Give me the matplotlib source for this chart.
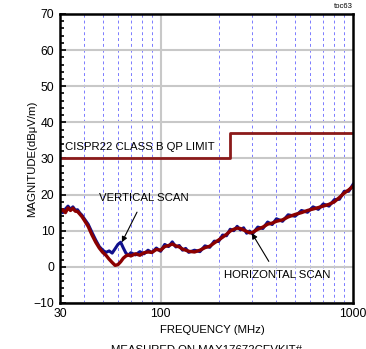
import matplotlib
matplotlib.use("Agg")
import matplotlib.pyplot as plt
from matplotlib.ticker import FixedLocator, MultipleLocator, NullFormatter

plt.rcParams["font.family"] = ["Liberation Sans", "DejaVu Sans"]

# CISPR22 class B QP limit
limit_freq = [30, 230, 230, 1000]
limit_level = [30, 30, 37, 37]

# scans (MHz, dBuV/m)
freq = [30, 31, 32, 33, 34, 35, 36, 37, 38, 39, 40, 42, 44, 46, 48, 50, 52, 54, 56,
        58, 60, 62, 64, 66, 68, 70, 74, 78, 82, 86, 90, 95, 100, 105, 110, 115, 120,
        125, 130, 135, 140, 150, 160, 170, 180, 190, 200, 210, 220, 230, 240, 250,
        260, 270, 280, 290, 300, 320, 340, 360, 380, 400, 430, 460, 500, 540, 580,
        620, 660, 700, 750, 800, 850, 900, 950, 1000]
horizontal = [15.2, 15.8, 15.0, 16.3, 15.6, 16.2, 15.4, 15.3, 14.6, 13.9, 13.0, 11.2,
              8.8, 6.8, 5.2, 4.0, 3.2, 2.1, 1.2, 0.4, 0.6, 1.4, 2.4, 3.0, 3.3, 3.0, 3.6,
              3.2, 3.9, 4.1, 4.0, 4.8, 4.6, 5.6, 5.9, 6.3, 5.8, 5.5, 4.9, 4.6, 4.3, 4.1,
              4.6, 5.3, 5.7, 6.6, 7.4, 8.2, 9.0, 9.9, 10.4, 10.7, 10.6, 10.2, 9.8, 9.4,
              9.5, 10.4, 11.0, 11.8, 12.1, 12.6, 13.0, 13.8, 14.5, 15.0, 15.6, 16.0,
              16.4, 16.8, 17.3, 18.0, 19.2, 20.4, 21.3, 22.3]
vertical = [15.6, 15.0, 16.0, 16.8, 15.9, 16.6, 15.7, 15.8, 14.9, 14.3, 13.4, 11.8,
            9.5, 7.4, 5.6, 4.6, 4.0, 4.4, 3.8, 5.0, 6.2, 6.8, 5.2, 3.8, 3.2, 3.9, 3.3,
            4.2, 3.6, 4.6, 3.9, 5.2, 4.3, 6.2, 5.6, 6.9, 5.5, 5.9, 4.6, 5.1, 4.0, 4.6,
            4.2, 5.8, 5.4, 7.1, 7.0, 8.8, 8.6, 10.4, 10.0, 11.2, 10.2, 10.8, 9.3, 9.9,
            9.1, 11.0, 10.6, 12.4, 11.7, 13.3, 12.6, 14.4, 14.0, 15.6, 15.1, 16.6,
            15.9, 17.4, 16.8, 18.6, 18.7, 20.9, 20.9, 22.8]

fs = 8.2

fig = plt.figure(figsize=(3.66, 3.49), dpi=100)
ax = fig.add_axes([0.164, 0.132, 0.8005, 0.828])

ax.set_xscale("log")
ax.set_xlim(30, 1000)
ax.set_ylim(-10, 70)

ax.xaxis.set_major_locator(FixedLocator([30, 100, 1000]))
ax.xaxis.set_minor_locator(FixedLocator([40, 50, 60, 70, 80, 90, 200, 300, 400, 500, 600, 700, 800, 900]))
ax.xaxis.set_major_formatter(plt.FuncFormatter(lambda v, p: "%d" % v))
ax.xaxis.set_minor_formatter(NullFormatter())
ax.yaxis.set_major_locator(MultipleLocator(10))
ax.yaxis.set_minor_locator(MultipleLocator(2))

ax.grid(True, which="major", axis="y", color="#c8c8c8", lw=1.5)
ax.axvline(100, color="#c8c8c8", lw=1.5, zorder=0.5)
ax.grid(True, which="minor", axis="x", color="#7a7aff", lw=0.7, ls=(0, (3, 3)))

ax.tick_params(axis="x", which="both", length=0, labelsize=fs + 0.5, pad=4)
ax.tick_params(axis="y", which="major", direction="in", length=4, width=1.2,
               labelsize=fs + 0.5, pad=4)
ax.tick_params(axis="y", which="minor", direction="in", length=3, width=1.2)
for s in ax.spines.values():
    s.set_linewidth(1.8)

ax.plot(limit_freq, limit_level, color="#8b1a1a", lw=2)
ax.plot(freq, vertical, color="#10108c", lw=2.2)
ax.plot(freq, horizontal, color="#8b0000", lw=2.4)

ax.text(32, 33.2, "CISPR22 CLASS B QP LIMIT", fontsize=fs, va="center")
ax.annotate("VERTICAL SCAN", xy=(62.9, 6.8), xytext=(82, 19.0), fontsize=fs,
            ha="center", va="center",
            arrowprops=dict(arrowstyle="-|>", color="black", lw=0.8, shrinkA=5, shrinkB=0,
                            mutation_scale=8))
ax.annotate("HORIZONTAL SCAN", xy=(298, 9.3), xytext=(403, -2.3), fontsize=fs,
            ha="center", va="center",
            arrowprops=dict(arrowstyle="-|>", color="black", lw=0.8, shrinkA=5, shrinkB=0,
                            mutation_scale=8))

ax.set_xlabel("FREQUENCY (MHz)", fontsize=fs)
ax.xaxis.set_label_coords(0.519, -0.076)
ax.set_ylabel("MAGNITUDE(dB\u03bcV/m)", fontsize=fs)
ax.yaxis.set_label_coords(-0.078, 0.5)

fig.text(0.965, 0.982, "toc63", fontsize=5.5, ha="right", va="center")
fig.text(0.53, 1.006, "RADIATED EMI, VIN = 24V, 3.3V OUTPUT", fontsize=fs, ha="center", va="baseline")
fig.text(0.563, -0.004, "MEASURED ON MAX17672CEVKIT#", fontsize=fs, ha="center", va="center")

fig.savefig("out.png", dpi=100)
